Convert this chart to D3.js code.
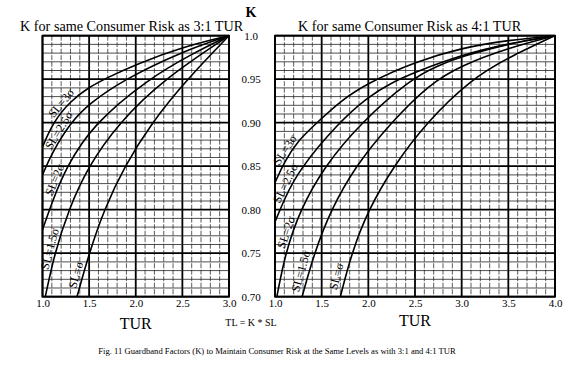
<!DOCTYPE html>
<html><head><meta charset="utf-8">
<script src="https://cdn.jsdelivr.net/npm/d3@7"></script>
<style>
body{margin:0;background:#fff;}
svg{display:block;font-family:"Liberation Serif","Times New Roman",serif;}
</style></head><body>
<svg id="c" width="581" height="367"></svg>
<script>
// ---------- data ----------
const leftTitle = "K for same Consumer Risk as 3:1 TUR";
const rightTitle = "K for same Consumer Risk as 4:1 TUR";
const yAxisTitle = "K";
const xAxisTitle = "TUR";
const middleNote = "TL = K * SL";
const caption = "Fig. 11  Guardband Factors (K) to Maintain Consumer Risk at the Same Levels as with 3:1 and 4:1 TUR";
const seriesNames = ["SL=3σ", "SL=2.5σ", "SL=2σ", "SL=1.5σ", "SL=σ"];
const yTicks = [1.0, 0.95, 0.90, 0.85, 0.80, 0.75, 0.70];
const yTickLabels = ["1.0", "0.95", "0.90", "0.85", "0.80", "0.75", "0.70"];
const xTicksLeft = [1.0, 1.5, 2.0, 2.5, 3.0];
const xTicksRight = [1.0, 1.5, 2.0, 2.5, 3.0, 3.5, 4.0];

// 3:1 TUR panel, points [TUR, K]
const k31_sl3   = [[1.0,0.872],[1.11,0.900],[1.3,0.925],[1.5,0.941],[1.7,0.952],[2.0,0.967],[2.5,0.987],[3.0,1.0]];
const k31_sl2_5 = [[1.0,0.840],[1.1,0.865],[1.3,0.900],[1.5,0.922],[1.88,0.950],[2.5,0.982],[3.0,1.0]];
const k31_sl2   = [[1.0,0.777],[1.1,0.808],[1.25,0.848],[1.54,0.898],[2.13,0.950],[2.6,0.979],[3.0,1.0]];
const k31_sl1_5 = [[1.03,0.70],[1.13,0.75],[1.28,0.80],[1.49,0.85],[1.82,0.90],[2.3,0.95],[3.0,1.0]];
const k31_sl1   = [[1.37,0.70],[1.50,0.75],[1.66,0.80],[1.88,0.85],[2.17,0.90],[2.55,0.95],[3.0,1.0]];

// 4:1 TUR panel, points [TUR, K]
const k41_sl3   = [[1.0,0.831],[1.1,0.855],[1.25,0.880],[1.45,0.900],[1.7,0.925],[2.0,0.946],[2.5,0.970],[3.0,0.986],[3.5,0.995],[4.0,1.0]];
const k41_sl2_5 = [[1.0,0.786],[1.1,0.812],[1.25,0.845],[1.68,0.900],[2.0,0.930],[2.25,0.946],[2.5,0.958],[3.0,0.978],[3.5,0.991],[4.0,1.0]];
const k41_sl2   = [[1.02,0.70],[1.11,0.75],[1.27,0.80],[1.53,0.85],[1.92,0.90],[2.45,0.95],[2.75,0.966],[3.0,0.976],[3.5,0.991],[4.0,1.0]];
const k41_sl1_5 = [[1.29,0.70],[1.42,0.75],[1.60,0.80],[1.86,0.85],[2.24,0.90],[2.66,0.945],[3.0,0.966],[3.5,0.986],[4.0,1.0]];
const k41_sl1   = [[1.70,0.70],[1.82,0.75],[2.0,0.80],[2.27,0.85],[2.62,0.90],[3.1,0.95],[3.5,0.975],[4.0,1.0]];

// ---------- layout ----------
const svg = d3.select("#c");
const yScale = d3.scaleLinear().domain([0.70, 1.0]).range([296.7, 35.7]);
const panels = [
  {title: leftTitle, titleX: 20, x: d3.scaleLinear().domain([1, 3]).range([42.5, 229]),
   ticks: xTicksLeft, series: [k31_sl3, k31_sl2_5, k31_sl2, k31_sl1_5, k31_sl1],
   labelAt: [1.25, 1.23, 1.19, 1.14, 1.43], labelOff: [6, 6, 6, 6, 7], turY: 329},
  {title: rightTitle, titleX: 298, x: d3.scaleLinear().domain([1, 4]).range([275, 555]),
   ticks: xTicksRight, series: [k41_sl3, k41_sl2_5, k41_sl2, k41_sl1_5, k41_sl1],
   labelAt: [1.16, 1.17, 1.18, 1.36, 1.75], labelOff: [6, 6, 6, 8, 9], turY: 326}
];

function interpK(data, t) {
  for (let i = 0; i < data.length - 1; i++) {
    const a = data[i], b = data[i + 1];
    if (t >= a[0] && t <= b[0]) return a[1] + (b[1] - a[1]) * (t - a[0]) / (b[0] - a[0]);
  }
  return t < data[0][0] ? data[0][1] : data[data.length - 1][1];
}

panels.forEach((p, pi) => {
  const x = p.x;
  const [x0, x1] = x.range();
  const [y1, y0] = yScale.range();
  const g = svg.append("g");
  const [d0, d1] = x.domain();
  const nV = Math.round((d1 - d0) / 0.1);
  d3.range(0, nV + 1).forEach(i => {
    const v = d0 + i * 0.1;
    const major = i % 5 === 0;
    g.append("line").attr("x1", x(v)).attr("x2", x(v)).attr("y1", y0).attr("y2", y1)
      .attr("stroke", major ? "#000" : "#333")
      .attr("stroke-width", major ? 1.8 : 0.8)
      .attr("stroke-dasharray", major ? null : "5,1.5");
  });
  d3.range(0, 31).forEach(i => {
    const v = 0.70 + i * 0.01;
    const major = i % 5 === 0;
    g.append("line").attr("x1", x0).attr("x2", x1).attr("y1", yScale(v)).attr("y2", yScale(v))
      .attr("stroke", major ? "#000" : "#222")
      .attr("stroke-width", major ? 1.8 : 0.8);
  });
  g.append("rect").attr("x", x0).attr("y", y0).attr("width", x1 - x0).attr("height", y1 - y0)
    .attr("fill", "none").attr("stroke", "#000").attr("stroke-width", 1.8);

  const clipId = "clip" + pi;
  svg.append("clipPath").attr("id", clipId).append("rect")
    .attr("x", x0).attr("y", y0).attr("width", x1 - x0).attr("height", y1 - y0);
  const line = d3.line().x(d => x(d[0])).y(d => yScale(d[1])).curve(d3.curveBasis);
  const cg = svg.append("g").attr("clip-path", `url(#${clipId})`);
  p.series.forEach(s => {
    cg.append("path").attr("d", line(s)).attr("fill", "none")
      .attr("stroke", "#000").attr("stroke-width", 1.6);
  });

  // curve labels
  p.series.forEach((s, si) => {
    const t = p.labelAt[si];
    const px = x(t), py = yScale(interpK(s, t));
    const ax = x(t - 0.05), ay = yScale(interpK(s, t - 0.05));
    const bx = x(t + 0.05), by = yScale(interpK(s, t + 0.05));
    let tx = bx - ax, ty = by - ay;
    const len = Math.hypot(tx, ty); tx /= len; ty /= len;
    const nx = ty, ny = -tx;
    const off = p.labelOff[si];
    const ang = Math.atan2(ty, tx) * 180 / Math.PI;
    const lx = px + nx * off, ly = py + ny * off;
    svg.append("text").attr("transform", `translate(${lx},${ly}) rotate(${ang})`)
      .attr("text-anchor", "middle").attr("dominant-baseline", "central")
      .attr("font-size", 12).attr("fill", "#000").text(seriesNames[si]);
  });

  const ax = svg.append("g").attr("transform", `translate(0,${y1})`)
    .call(d3.axisBottom(x).tickValues(p.ticks).tickFormat(d3.format(".1f")).tickSize(0).tickPadding(3));
  ax.select(".domain").remove();
  ax.selectAll("text").attr("font-size", 11).attr("font-family", "Liberation Serif").attr("fill", "#000");

  svg.append("text").attr("x", p.titleX).attr("y", 31).attr("font-size", 14.2).text(p.title);
  svg.append("text").attr("x", (x0 + x1) / 2).attr("y", p.turY).attr("text-anchor", "middle")
    .attr("font-size", 16).text(xAxisTitle);
});

const ya = svg.append("g").attr("transform", "translate(251,0)")
  .call(d3.axisRight(yScale).tickValues(yTicks).tickFormat((d, i) => yTickLabels[i]).tickSize(0).tickPadding(0));
ya.select(".domain").remove();
ya.selectAll("text").attr("text-anchor", "middle").attr("font-size", 11)
  .attr("font-family", "Liberation Serif").attr("fill", "#000");

svg.append("text").attr("x", 251).attr("y", 17).attr("text-anchor", "middle")
  .attr("font-size", 14).attr("font-weight", "bold").text(yAxisTitle);
svg.append("text").attr("x", 251).attr("y", 326).attr("text-anchor", "middle")
  .attr("font-size", 10).text(middleNote);
svg.append("text").attr("x", 277).attr("y", 354).attr("text-anchor", "middle")
  .attr("font-size", 8.6).text(caption);
</script>
</body></html>
